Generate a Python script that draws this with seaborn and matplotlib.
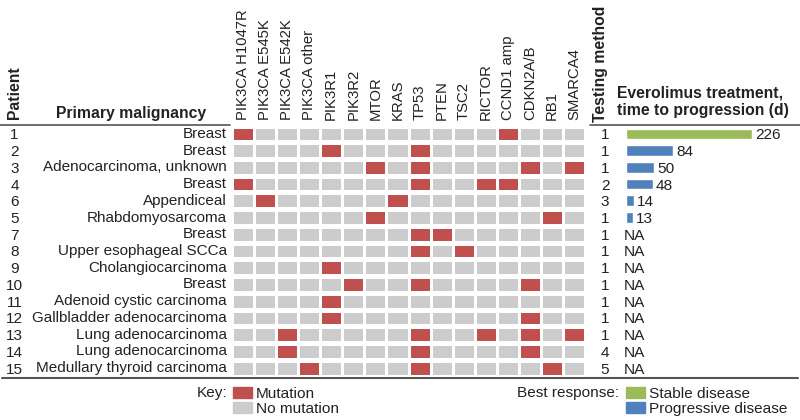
import numpy as np
import pandas as pd
import matplotlib.pyplot as plt
import matplotlib.transforms as mtransforms
from matplotlib.colors import ListedColormap
from matplotlib.patches import Patch
import seaborn as sns

# Dados
patients = ["1", "2", "3", "4", "6", "5", "7", "8", "9", "10", "11", "12", "13", "14", "15"]
malignancy = ["Breast", "Breast", "Adenocarcinoma, unknown", "Breast", "Appendiceal",
              "Rhabdomyosarcoma", "Breast", "Upper esophageal SCCa", "Cholangiocarcinoma",
              "Breast", "Adenoid cystic carcinoma", "Gallbladder adenocarcinoma",
              "Lung adenocarcinoma", "Lung adenocarcinoma", "Medullary thyroid carcinoma"]
genes = ["PIK3CA H1047R", "PIK3CA E545K", "PIK3CA E542K", "PIK3CA other", "PIK3R1", "PIK3R2",
         "MTOR", "KRAS", "TP53", "PTEN", "TSC2", "RICTOR", "CCND1 amp", "CDKN2A/B", "RB1", "SMARCA4"]
# genes mutados por paciente (mesma ordem de patients)
mutated = [
    ["PIK3CA H1047R", "CCND1 amp"],
    ["PIK3R1", "TP53"],
    ["MTOR", "TP53", "CDKN2A/B", "SMARCA4"],
    ["PIK3CA H1047R", "TP53", "RICTOR", "CCND1 amp"],
    ["PIK3CA E545K", "KRAS"],
    ["MTOR", "RB1"],
    ["TP53", "PTEN"],
    ["TP53", "TSC2"],
    ["PIK3R1"],
    ["PIK3R2", "TP53", "CDKN2A/B"],
    ["PIK3R1"],
    ["PIK3R1", "CDKN2A/B"],
    ["PIK3CA E542K", "TP53", "RICTOR", "CDKN2A/B", "SMARCA4"],
    ["PIK3CA E542K", "TP53", "CDKN2A/B"],
    ["PIK3CA other", "TP53", "RB1"],
]
testing_method = [1, 1, 1, 2, 3, 1, 1, 1, 1, 1, 1, 1, 1, 4, 5]
ttp_patients = ["1", "2", "3", "4", "6", "5"]
ttp_days = [226, 84, 50, 48, 14, 13]
ttp_response = ["Stable disease", "Progressive disease", "Progressive disease",
                "Progressive disease", "Progressive disease", "Progressive disease"]

RED, GRAY = "#C0504D", "#CCCCCC"
GREEN, BLUE = "#9BBB59", "#4F81BD"
TXT = "#222222"
W, H = 800, 420
FS = 11.1

sns.set_theme(style="white")
plt.rcParams["font.family"] = ["Liberation Sans", "DejaVu Sans"]
plt.rcParams["text.color"] = TXT

mat = pd.DataFrame(0, index=patients, columns=genes)
for p, muts in zip(patients, mutated):
    mat.loc[p, muts] = 1

fig = plt.figure(figsize=(8, 4.2), dpi=100)

# eixo de fundo em pixels para textos e linhas
bg = fig.add_axes([0, 0, 1, 1])
bg.set_xlim(0, W)
bg.set_ylim(H, 0)
bg.axis("off")

def px_rect(x0, y0, x1, y1):
    return [x0 / W, 1 - y1 / H, (x1 - x0) / W, (y1 - y0) / H]

# heatmap das mutações
hm = fig.add_axes(px_rect(231.75, 125.5, 585.25, 376.5))
sns.heatmap(mat, ax=hm, cmap=ListedColormap([GRAY, RED]), cbar=False,
            linewidths=1.8, linecolor="white", xticklabels=genes, yticklabels=malignancy)
hm.hlines(np.arange(len(patients) + 1), 0, len(genes), color="white", lw=3.6)
hm.xaxis.tick_top()
hm.tick_params(axis="both", length=0, colors=TXT)
hm.tick_params(axis="x", pad=4, labelsize=10.7)
hm.tick_params(axis="y", pad=3.4, labelsize=11.0)
plt.setp(hm.get_xticklabels(), rotation=90, va="bottom", ha="center")
plt.setp(hm.get_yticklabels(), rotation=0)
hm.set_xlabel("")
hm.set_ylabel("")

# barras do tempo até progressão
ba = fig.add_axes(px_rect(626, 125.5, 796, 376.5))
df_ttp = pd.DataFrame({"patient": ttp_patients, "days": ttp_days, "response": ttp_response})
sns.barplot(data=df_ttp, x="days", y="patient", hue="response", order=patients,
            hue_order=["Stable disease", "Progressive disease"],
            palette={"Stable disease": GREEN, "Progressive disease": BLUE},
            dodge=False, width=0.64, saturation=1, legend=False, ax=ba)
ba.set_xlim(0, 170 / 0.5575)
ba.set_ylim(len(patients) - 0.5, -0.5)
ba.axis("off")
for i, p in enumerate(patients):
    if p in ttp_patients:
        v = ttp_days[ttp_patients.index(p)]
        ba.annotate(str(v), (v, i), xytext=(2.2, 0), textcoords="offset points",
                    ha="left", va="center_baseline", fontsize=FS, color=TXT)
    else:
        ba.annotate("NA", (0, i), xytext=(-1.5, 0), textcoords="offset points",
                    ha="left", va="center_baseline", fontsize=FS, color=TXT)

# número do paciente e método de teste
tr = mtransforms.blended_transform_factory(bg.transData, hm.transData)
for i, (p, m) in enumerate(zip(patients, testing_method)):
    bg.text(14.5, i + 0.5, p, transform=tr, ha="center", va="center_baseline", fontsize=FS)
    bg.text(605, i + 0.5, str(m), transform=tr, ha="center", va="center_baseline", fontsize=FS)

# cabeçalhos
bold = dict(fontsize=11.3, fontweight="bold")
bg.text(15, 119, "Patient", rotation=90, ha="center", va="bottom", **bold)
bg.text(131, 118, "Primary malignancy", ha="center", va="baseline", **bold)
bg.text(600, 122, "Testing method", rotation=90, ha="center", va="bottom", **bold)
bg.text(617, 118, "Everolimus treatment,\ntime to progression (d)", ha="left", va="bottom",
        linespacing=1.2, **bold)

# linhas
bg.plot([0, 230], [125, 125], color="#555555", lw=1.2)
bg.plot([590, 800], [125, 125], color="#555555", lw=1.2)
bg.plot([2, 798], [378, 378], color="#555555", lw=1.5)

# legendas
leg_kw = dict(loc="upper left", bbox_transform=bg.transData, frameon=False, fontsize=FS,
              handlelength=1.25, handleheight=0.71, handletextpad=0.22,
              labelspacing=0.08, borderpad=0, borderaxespad=0)
bg.text(227, 392, "Key:", ha="right", va="center_baseline", fontsize=FS)
leg1 = bg.legend(handles=[Patch(color=RED, label="Mutation"), Patch(color=GRAY, label="No mutation")],
                 bbox_to_anchor=(233, 386.5), **leg_kw)
bg.add_artist(leg1)
bg.text(619, 392, "Best response:", ha="right", va="center_baseline", fontsize=FS)
bg.legend(handles=[Patch(color=GREEN, label="Stable disease"), Patch(color=BLUE, label="Progressive disease")],
          bbox_to_anchor=(626, 386.5), **leg_kw)

fig.savefig("out.png", dpi=100)
